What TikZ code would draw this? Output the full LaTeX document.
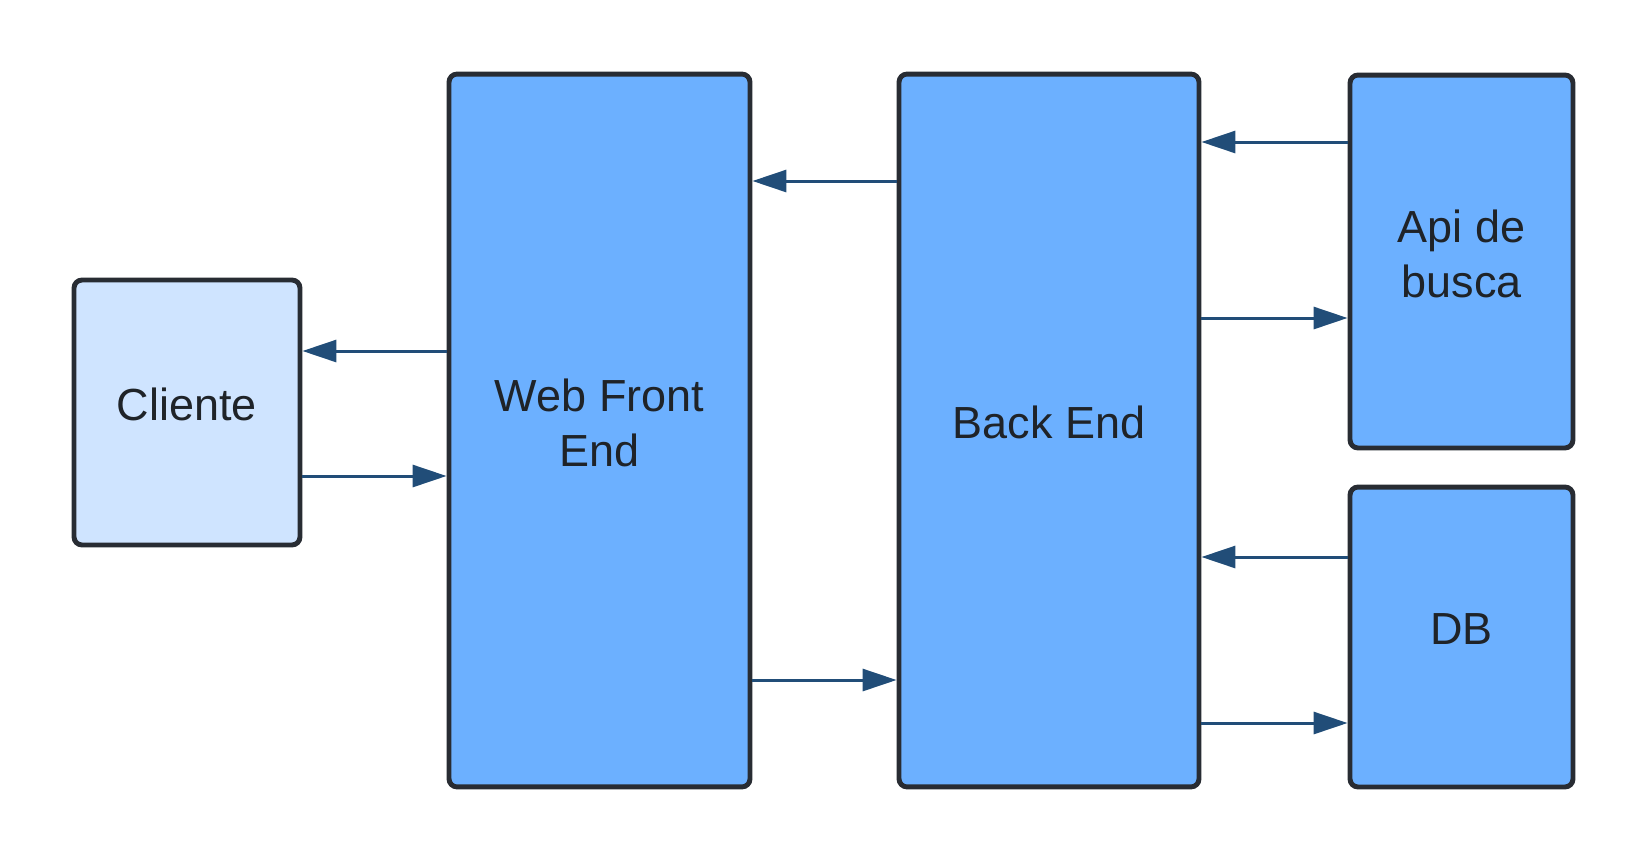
\documentclass[tikz,border=0pt]{standalone}
\usepackage{fontspec}
\setmainfont{Liberation Sans}
\usepackage{xcolor}
\usetikzlibrary{positioning,arrows.meta}

\definecolor{boxline}{HTML}{282C33}
\definecolor{boxblue}{HTML}{6CB0FF}
\definecolor{boxlight}{HTML}{CFE4FF}
\definecolor{flowblue}{HTML}{214D78}
\definecolor{txt}{HTML}{1F2328}

\begin{document}
\begin{tikzpicture}[x=0.02cm, y=-0.02cm,
    block/.style={draw=boxline, line width=2.8pt, rounded corners=0.16cm, fill=boxblue,
        text=txt, font=\fontsize{25.6}{31}\selectfont, align=center, inner sep=0pt, text depth=9pt},
    flow/.style={draw=flowblue, line width=1.7pt, -{Triangle[length=0.68cm,width=0.44cm]}}]
    \useasboundingbox (0,0) rectangle (1650,863);

    % Cliente
    \node[block, fill=boxlight, minimum width=4.52cm, minimum height=5.3cm] at (187,412.5) (cli) {Cliente};
    % Web Front End
    \node[block, minimum width=6.02cm, minimum height=14.26cm] at (599.5,430.5) (web) {Web Front\\End};
    % Back End
    \node[block, minimum width=6.0cm, minimum height=14.26cm] at (1049,430.5) (back) {Back End};
    % Api de busca and DB
    \node[block, minimum width=4.46cm, minimum height=7.46cm] at (1461.5,261.5) (api) {Api de\\busca};
    \node[block, minimum width=4.46cm, minimum height=6.0cm] at (1461.5,637) (db) {DB};

    % Cliente <-> Web Front End
    \draw[flow] (web.west |- 0,351) -- (cli.east |- 0,351);
    \draw[flow] (cli.east |- 0,476) -- (web.west |- 0,476);

    % Web Front End <-> Back End
    \draw[flow] (back.west |- 0,181) -- (web.east |- 0,181);
    \draw[flow] (web.east |- 0,680) -- (back.west |- 0,680);

    % Back End <-> Api de busca
    \draw[flow] (api.west |- 0,142) -- (back.east |- 0,142);
    \draw[flow] (back.east |- 0,318) -- (api.west |- 0,318);

    % Back End <-> DB
    \draw[flow] (db.west |- 0,557) -- (back.east |- 0,557);
    \draw[flow] (back.east |- 0,723) -- (db.west |- 0,723);
\end{tikzpicture}
\end{document}
